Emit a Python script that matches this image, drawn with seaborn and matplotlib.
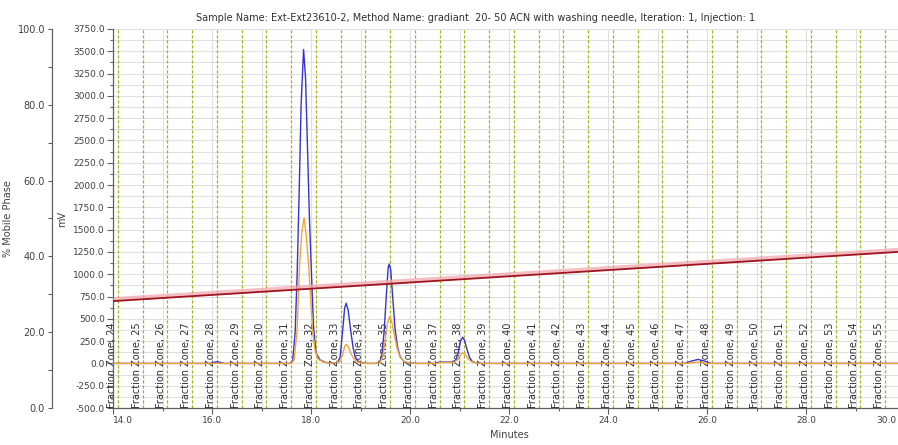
import numpy as np
import pandas as pd
import seaborn as sns
import matplotlib.pyplot as plt
import matplotlib.transforms as mtransforms
from matplotlib.ticker import MultipleLocator, FormatStrFormatter

title = ("Sample Name: Ext-Ext23610-2, Method Name: gradiant  20- 50 ACN "
         "with washing needle, Iteration: 1, Injection: 1")

# blue channel (minutes, mV)
blue_t = [14.0, 15.95, 16.1, 16.25, 17.58, 17.63, 17.68, 17.72, 17.76, 17.80,
          17.85, 17.89, 17.93, 17.97, 18.01, 18.05, 18.10, 18.18, 18.28, 18.40,
          18.54, 18.59, 18.64, 18.68, 18.71, 18.75, 18.80, 18.85, 18.89, 18.95,
          19.05, 19.15, 19.30, 19.38, 19.43, 19.48, 19.52, 19.56, 19.58, 19.61,
          19.65, 19.70, 19.75, 19.80, 19.88, 19.98, 20.10, 20.50, 20.58, 20.85,
          20.93, 20.98, 21.02, 21.065, 21.10, 21.15, 21.20, 21.26, 21.35, 21.45,
          25.55, 25.68, 25.82, 25.96, 26.08, 30.0]
blue_mv = [0, 0, 20, 0, 0, 30, 350, 1000, 1900, 2900,
           3520, 3200, 2400, 1600, 1000, 420, 120, 40, 15, 0,
           10, 76, 376, 620, 675, 600, 376, 180, 76, 25,
           5, 0, 0, 10, 76, 376, 750, 1080, 1115, 1050,
           750, 376, 180, 76, 20, 5, 0, 0, 15, 15,
           40, 140, 250, 294, 260, 160, 70, 20, 5, 0,
           0, 25, 45, 25, 0, 0]

# orange channel (minutes, mV)
orange_t = [14.0, 17.60, 17.66, 17.72, 17.77, 17.82, 17.86, 17.90, 17.95, 18.00,
            18.03, 18.08, 18.14, 18.25, 18.40, 18.58, 18.64, 18.68, 18.71, 18.75,
            18.80, 18.86, 18.92, 19.02, 19.15, 19.32, 19.40, 19.45, 19.50, 19.55,
            19.59, 19.63, 19.68, 19.74, 19.80, 19.88, 20.00, 20.10, 20.55, 20.60,
            20.88, 20.96, 21.01, 21.065, 21.11, 21.17, 21.24, 21.35, 21.45, 25.60,
            25.80, 26.00, 30.0]
orange_mv = [0, 0, 40, 376, 1127, 1500, 1630, 1450, 1127, 650,
             376, 150, 50, 15, 0, 20, 100, 190, 215, 190,
             120, 55, 20, 5, 0, 0, 15, 80, 260, 460,
             525, 470, 330, 170, 70, 20, 5, 0, 0, 10,
             10, 40, 90, 120, 100, 55, 20, 5, 0, 0,
             15, 0, 0]

# % mobile phase gradient
grad_t = [14.0, 30.0]
grad_pct = [28.2, 41.3]

# fraction zones
zone_num = [24, 25, 26, 27, 28, 29, 30, 31, 32, 33, 34, 35, 36, 37, 38, 39,
            40, 41, 42, 43, 44, 45, 46, 47, 48, 49, 50, 51, 52, 53, 54, 55]
zone_t = [14.1, 14.6, 15.1, 15.6, 16.1, 16.6, 17.1, 17.6, 18.1, 18.6, 19.1,
          19.6, 20.1, 20.6, 21.1, 21.6, 22.1, 22.6, 23.1, 23.6, 24.1, 24.6,
          25.1, 25.6, 26.1, 26.6, 27.1, 27.6, 28.1, 28.6, 29.1, 29.6]

sns.set_theme(style='white')
plt.rcParams['font.family'] = ['DejaVu Sans']
txt = '#404040'

fig = plt.figure(figsize=(8.98, 4.45), dpi=100)
ax = fig.add_axes([113/898, 37/445, 792/898, 379/445])

ax.grid(which='both', color='#e0e0e0', lw=0.8)
ax.set_axisbelow(True)

for z, t in zip(zone_num, zone_t):
    ax.axvline(t, color='#a4b21c', lw=0.9, ls=(0, (2.5, 1.5)), zorder=1)
    ax.text(t - 0.02, -495, 'Fraction Zone, %d' % z, rotation=90,
            ha='right', va='bottom', fontsize=7, color='#303030', zorder=2)

sns.lineplot(x=blue_t, y=blue_mv, ax=ax, color='#3434d4', lw=1.0, zorder=3)
sns.lineplot(x=orange_t, y=orange_mv, ax=ax, color='#f2a636', lw=1.0, zorder=4)

ax.set_xlim(14, 30)
ax.set_ylim(-500, 3750)
ax.set_xticks([14, 16, 18, 20, 22, 24, 26, 28, 30])
ax.xaxis.set_minor_locator(MultipleLocator(1))
ax.yaxis.set_major_locator(MultipleLocator(250))
ax.yaxis.set_minor_locator(MultipleLocator(125))
ax.xaxis.set_major_formatter(FormatStrFormatter('%.1f'))
ax.yaxis.set_major_formatter(FormatStrFormatter('%.1f'))
ax.tick_params(which='both', direction='out', colors='#606060',
               labelcolor=txt, labelsize=6.5, left=True, bottom=True)
ax.tick_params(which='major', length=4, width=0.8, pad=2)
ax.tick_params(which='minor', length=2.5, width=0.8)
ax.set_xlabel('Minutes', fontsize=7, color=txt, labelpad=3)
ax.set_ylabel('mV', fontsize=7, color=txt, labelpad=4)
for s in ['top', 'right']:
    ax.spines[s].set_visible(False)
for s in ['left', 'bottom']:
    ax.spines[s].set_color('#606060')
    ax.spines[s].set_linewidth(0.9)

# mobile phase axis on the far left
ax2 = ax.twinx()
ax2.fill_between(grad_t, grad_pct, [p + 1.2 for p in grad_pct],
                 color='#f2a8b0', alpha=0.75, lw=0)
sns.lineplot(x=grad_t, y=grad_pct, ax=ax2, color='#a0141e', lw=1.3)
ax2.set_ylim(0, 100)
ax2.set_xlim(14, 30)
ax2.yaxis.set_ticks_position('left')
ax2.yaxis.set_label_position('left')
for s in ['top', 'right', 'bottom']:
    ax2.spines[s].set_visible(False)
ax2.spines['left'].set_visible(True)
ax2.spines['left'].set_position(('axes', -61/792))
ax2.spines['left'].set_color('#606060')
ax2.spines['left'].set_linewidth(0.9)
ax2.yaxis.set_major_locator(MultipleLocator(20))
ax2.yaxis.set_minor_locator(MultipleLocator(10))
ax2.yaxis.set_major_formatter(FormatStrFormatter('%.1f'))
ax2.tick_params(axis='y', which='both', direction='out', colors='#606060',
                labelcolor=txt, labelsize=7, left=True, right=False,
                labelleft=True, labelright=False)
ax2.tick_params(axis='y', which='major', length=3, width=0.8, pad=2)
ax2.tick_params(axis='y', which='minor', length=3, width=0.8)
ax2.set_ylabel('% Mobile Phase', fontsize=7, color=txt, labelpad=3)

fig.text(476/898, 1 - 18/445, title, ha='center', va='center',
         fontsize=7, color='#303030')

# keep the first and last minute labels inside the picture
fig.canvas.draw()
for lab in ax.get_xticklabels():
    if lab.get_text() == '14.0':
        lab.set_horizontalalignment('left')
    elif lab.get_text() == '30.0':
        lab.set_horizontalalignment('right')
        lab.set_transform(lab.get_transform() + mtransforms.ScaledTranslation(
            -9/100, 0, fig.dpi_scale_trans))

fig.savefig('out.png', dpi=100)
